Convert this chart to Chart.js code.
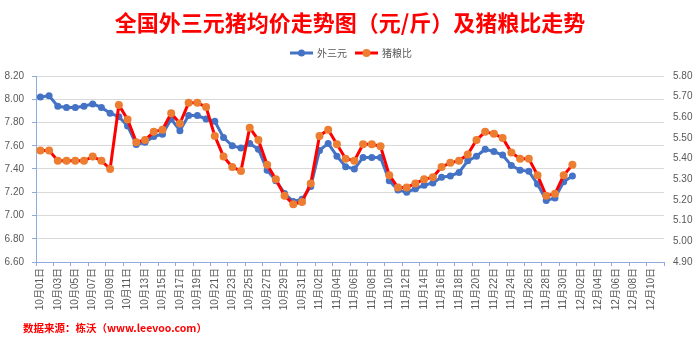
<!DOCTYPE html>
<html>
<head>
<meta charset="utf-8">
<title>全国外三元猪均价走势图</title>
<script src="https://cdn.jsdelivr.net/npm/chart.js@4.4.1/dist/chart.umd.min.js"></script>
<style>
  html, body { margin: 0; padding: 0; background: #ffffff; }
  #wrap { width: 700px; height: 341px; }
</style>
</head>
<body>
<div id="wrap"><canvas id="chart" width="700" height="341"></canvas></div>
<script>
// ---- data ----------------------------------------------------------------
const titleText = '全国外三元猪均价走势图（元/斤）及猪粮比走势';
const sourceText = '数据来源：栋沃（www.leevoo.com）';
const seriesNames = ['外三元', '猪粮比'];

// daily categories, 10月01日 … 12月11日
const monthSpans = [[10, 31], [11, 30], [12, 11]];
const categories = [];
monthSpans.forEach(([m, days]) => {
  for (let d = 1; d <= days; d++) categories.push(m + '月' + String(d).padStart(2, '0') + '日');
});

// 外三元 average price, 元/斤 (left axis)
const priceWaisanyuan = [
  8.02, 8.03, 7.94, 7.93, 7.93, 7.94, 7.96, 7.93, 7.88, 7.85,
  7.77, 7.61, 7.63, 7.68, 7.70, 7.83, 7.73, 7.86, 7.86, 7.83,
  7.81, 7.67, 7.60, 7.58, 7.62, 7.57, 7.39, 7.30, 7.19, 7.12,
  7.14, 7.25, 7.56, 7.62, 7.51, 7.42, 7.40, 7.50, 7.50, 7.50,
  7.30, 7.22, 7.20, 7.23, 7.26, 7.28, 7.33, 7.34, 7.37, 7.47,
  7.51, 7.57, 7.55, 7.52, 7.43, 7.39, 7.38, 7.27, 7.13, 7.15,
  7.29, 7.34
];

// hog-to-grain price ratio (right axis)
const hogGrainRatio = [
  5.44, 5.44, 5.39, 5.39, 5.39, 5.39, 5.41, 5.39, 5.35, 5.66,
  5.59, 5.48, 5.49, 5.53, 5.54, 5.62, 5.57, 5.67, 5.67, 5.65,
  5.51, 5.41, 5.36, 5.34, 5.55, 5.49, 5.37, 5.30, 5.22, 5.18,
  5.19, 5.28, 5.51, 5.54, 5.47, 5.40, 5.39, 5.47, 5.47, 5.46,
  5.32, 5.26, 5.26, 5.28, 5.30, 5.31, 5.36, 5.38, 5.39, 5.42,
  5.49, 5.53, 5.52, 5.50, 5.43, 5.40, 5.40, 5.32, 5.22, 5.23,
  5.32, 5.37
];

// axis ranges
const priceAxis = { min: 6.6, max: 8.2, step: 0.2 };
const ratioAxis = { min: 4.9, max: 5.8, step: 0.1 };

// ---- styling ---------------------------------------------------------------
const BLUE = '#4472C4';
const RED = '#FF0000';
const ORANGE = '#ED7D31';
const AXIS = '#8FAADC';
const GRID = '#D9D9D9';
const TEXT = '#595959';
const LATIN = '"Liberation Sans", "Noto Sans CJK SC", sans-serif';
const CJK = '"Noto Sans CJK SC", "Liberation Sans", sans-serif';

// small "line with marker" swatches for the legend
function legendSwatch(lineColor, dotColor, r) {
  const c = document.createElement('canvas');
  c.width = 30; c.height = 10;
  const g = c.getContext('2d');
  g.strokeStyle = lineColor; g.lineWidth = 3;
  g.beginPath(); g.moveTo(5, 5); g.lineTo(28, 5); g.stroke();
  g.fillStyle = dotColor;
  g.beginPath(); g.arc(16.5, 5, r, 0, Math.PI * 2); g.fill();
  return c;
}
const swatches = [legendSwatch(BLUE, BLUE, 3.5), legendSwatch(RED, ORANGE, 4)];

// extra room between legend row and plot
const legendGap = {
  id: 'legendGap',
  beforeLayout(chart) {
    const lg = chart.legend;
    if (lg && !lg.$gap) {
      const baseFit = Object.getPrototypeOf(lg).fit;
      lg.fit = function () { baseFit.call(this); this.height += 8; };
      lg.$gap = true;
    }
  }
};

// data source line under the chart
const sourceNote = {
  id: 'sourceNote',
  afterDraw(chart) {
    const ctx = chart.ctx;
    ctx.save();
    ctx.font = 'bold 10.5px ' + CJK;
    ctx.fillStyle = RED;
    ctx.textAlign = 'left';
    ctx.textBaseline = 'middle';
    ctx.fillText(sourceText, 23, 328);
    ctx.restore();
  }
};

new Chart(document.getElementById('chart'), {
  type: 'line',
  data: {
    labels: categories,
    datasets: [
      {
        label: seriesNames[0],
        data: priceWaisanyuan,
        yAxisID: 'y',
        borderColor: BLUE,
        backgroundColor: BLUE,
        borderWidth: 3,
        pointRadius: 3.5,
        pointBorderWidth: 0,
        pointBackgroundColor: BLUE,
        tension: 0,
        order: 1
      },
      {
        label: seriesNames[1],
        data: hogGrainRatio,
        yAxisID: 'y1',
        borderColor: RED,
        backgroundColor: ORANGE,
        borderWidth: 3,
        pointRadius: 4,
        pointBorderWidth: 0,
        pointBackgroundColor: ORANGE,
        tension: 0,
        order: 0
      }
    ]
  },
  options: {
    responsive: false,
    animation: false,
    events: [],
    layout: { padding: 0 },
    plugins: {
      title: {
        display: true,
        text: titleText,
        color: RED,
        font: { size: 22, weight: 'bold', family: CJK },
        padding: { top: 9, bottom: 6.6 }
      },
      legend: {
        display: true,
        position: 'top',
        labels: {
          usePointStyle: true,
          pointStyleWidth: 24,
          padding: 6,
          color: TEXT,
          font: { size: 10, family: CJK },
          sort: (a, b) => a.datasetIndex - b.datasetIndex,
          generateLabels(chart) {
            const items = Chart.defaults.plugins.legend.labels.generateLabels(chart);
            items.forEach(it => { it.pointStyle = swatches[it.datasetIndex]; });
            return items;
          }
        }
      },
      tooltip: { enabled: false }
    },
    scales: {
      x: {
        type: 'category',
        offset: true,
        grid: {
          offset: true,
          drawOnChartArea: false,
          drawTicks: true,
          tickLength: 4,
          color: (c) => (c.index === undefined || c.index % 2 === 0) ? AXIS : 'rgba(0,0,0,0)'
        },
        border: { color: AXIS, width: 1 },
        ticks: {
          autoSkip: false,
          maxRotation: 90,
          minRotation: 90,
          padding: 2,
          color: TEXT,
          font: { size: 10, family: LATIN },
          callback(value, index) { return index % 2 === 0 ? this.getLabelForValue(value) : ''; }
        },
        afterFit(scale) { scale.height = 79; }
      },
      y: {
        position: 'left',
        min: priceAxis.min,
        max: priceAxis.max,
        grid: { color: GRID, drawTicks: true, tickLength: 4, tickColor: AXIS },
        border: { color: AXIS, width: 1 },
        ticks: {
          stepSize: priceAxis.step,
          padding: 8,
          color: TEXT,
          font: { size: 10, family: LATIN },
          callback: (v) => v.toFixed(2)
        },
        afterFit(scale) { scale.width = 36; }
      },
      y1: {
        position: 'right',
        min: ratioAxis.min,
        max: ratioAxis.max,
        grid: { drawOnChartArea: false, drawTicks: false },
        border: { display: false },
        ticks: {
          stepSize: ratioAxis.step,
          padding: 9,
          color: TEXT,
          font: { size: 10, family: LATIN },
          callback: (v) => v.toFixed(2)
        },
        afterFit(scale) { scale.width = 36; }
      }
    }
  },
  plugins: [legendGap, sourceNote]
});
</script>
</body>
</html>
